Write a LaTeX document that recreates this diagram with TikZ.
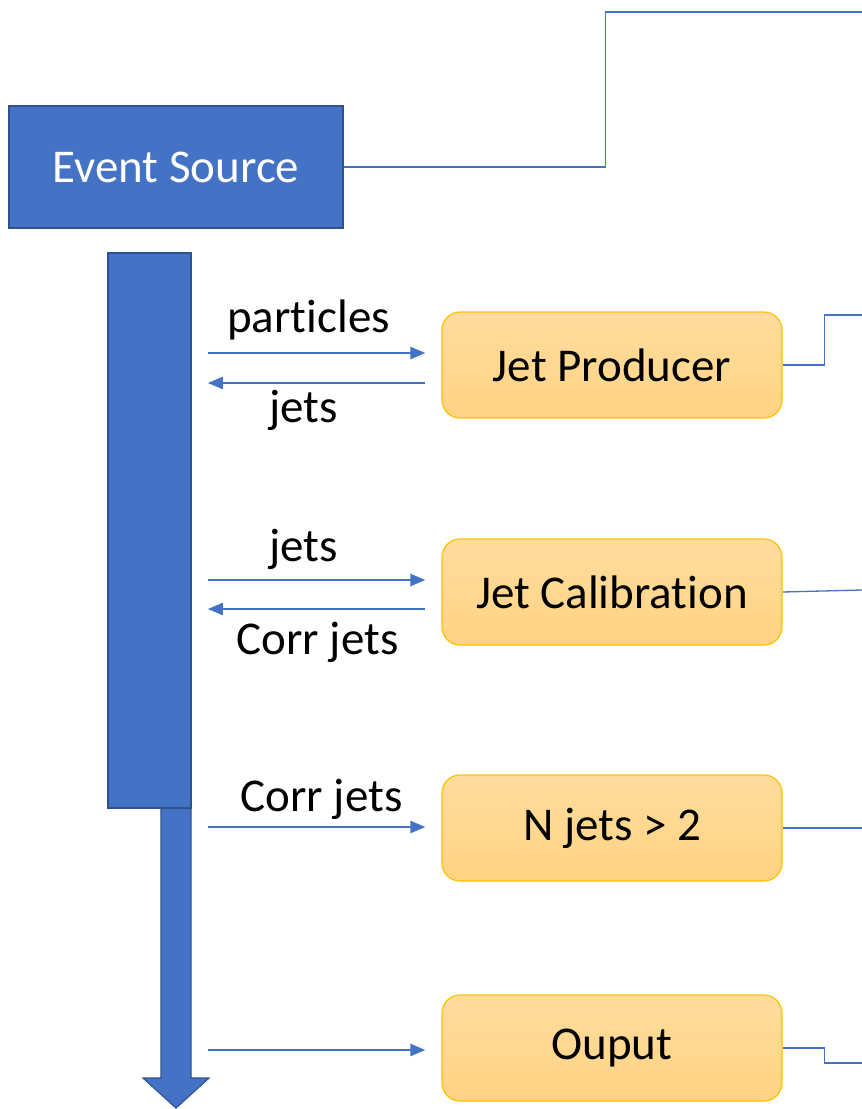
\documentclass[tikz,border=0pt]{standalone}
\usepackage{fontspec}
\setmainfont{Carlito}[Ligatures=NoCommon]
\usetikzlibrary{arrows.meta,calc,positioning}
\definecolor{accblue}{HTML}{4472C4}
\definecolor{darkblue}{HTML}{2F528F}
\definecolor{gold}{HTML}{FFC000}
\definecolor{lightgold}{HTML}{FFDC9E}
\definecolor{midgold}{HTML}{FFD383}
\tikzstyle{tag}=[
        font=\fontsize{47}{56}\selectfont,
        inner sep=0pt
]
\tikzstyle{module}=[
        draw=gold,
        line width=1.2pt,
        rounded corners=18pt,
        top color=lightgold,
        bottom color=midgold,
        minimum width=340pt,
        minimum height=106pt,
        tag
]
\tikzstyle{bluebox}=[
        fill=accblue,
        draw=darkblue,
        line width=1.5pt,
        inner sep=0pt
]
\tikzstyle{flow}=[
        draw=accblue,
        line width=2.2pt,
        -{Triangle[length=15pt,width=12pt]}
]
\tikzstyle{wire}=[
        draw=accblue,
        line width=1.3pt
]

\begin{document}
\begin{tikzpicture}[x=1pt,y=-1pt]
                        \useasboundingbox (0,0) rectangle (862,1109);

                        % big output arrow, behind the bus
                        \draw[fill=accblue, draw=darkblue, line width=1.2pt]
                            (161,700) -- (191,700) -- (191,1078) -- (209,1078)
                            -- (176,1108) -- (143,1078) -- (161,1078) -- cycle;

                        \node[bluebox, tag, minimum width=334pt, minimum height=122pt, text=white] (src) at (176,167) {Event Source};
                        \node[bluebox, minimum width=83pt, minimum height=555pt] (bus) at (149.5,530.5) {};

                        \node[module] (prod) at (612,365) {Jet Producer};
                        \node[module] (calib) at (612,592) {Jet Calibration};
                        \node[module] (sel) at (612,828) {N jets > 2};
                        \node[module] (out) at (612,1048) {Ouput};

                        \draw[flow] ($(bus.east |- prod.west)+(16,-12)$) -- ($(prod.west)+(-16,-12)$)
                            node[tag, midway, above=12pt, xshift=-8pt] {particles};
                        \draw[flow] ($(prod.west)+(-16,18)$) -- ($(bus.east |- prod.west)+(16,18)$)
                            node[tag, midway, below=6pt, xshift=-13pt] {jets};

                        \draw[flow] ($(bus.east |- calib.west)+(16,-12)$) -- ($(calib.west)+(-16,-12)$)
                            node[tag, midway, above=9pt, xshift=-13pt] {jets};
                        \draw[flow] ($(calib.west)+(-16,17)$) -- ($(bus.east |- calib.west)+(16,17)$)
                            node[tag, midway, below=12pt, xshift=1pt] {Corr jets};

                        \draw[flow] ($(bus.east |- sel.west)+(16,-1)$) -- ($(sel.west)+(-16,-1)$)
                            node[tag, midway, above=6pt, xshift=5pt] {Corr jets};

                        \draw[flow] ($(bus.east |- out.west)+(16,2)$) -- ($(out.west)+(-16,2)$);

                        \coordinate (srcout) at (862,12);
                        \coordinate (prodout) at (862,315);
                        \coordinate (calibout) at (862,590);
                        \coordinate (selout) at (862,828);
                        \coordinate (outout) at (862,1063);

                        \draw[wire] (src.east) -- ++(262,0) |- (srcout);
                        \draw[wire] (prod.east) -- ++(42,0) |- (prodout);
                        \draw[wire] (calib.east) -- (calibout);
                        \draw[wire] (sel.east) -- (selout);
                        \draw[wire] (out.east) -- ++(42,0) |- (outout);

                    \end{tikzpicture}
\end{document}
